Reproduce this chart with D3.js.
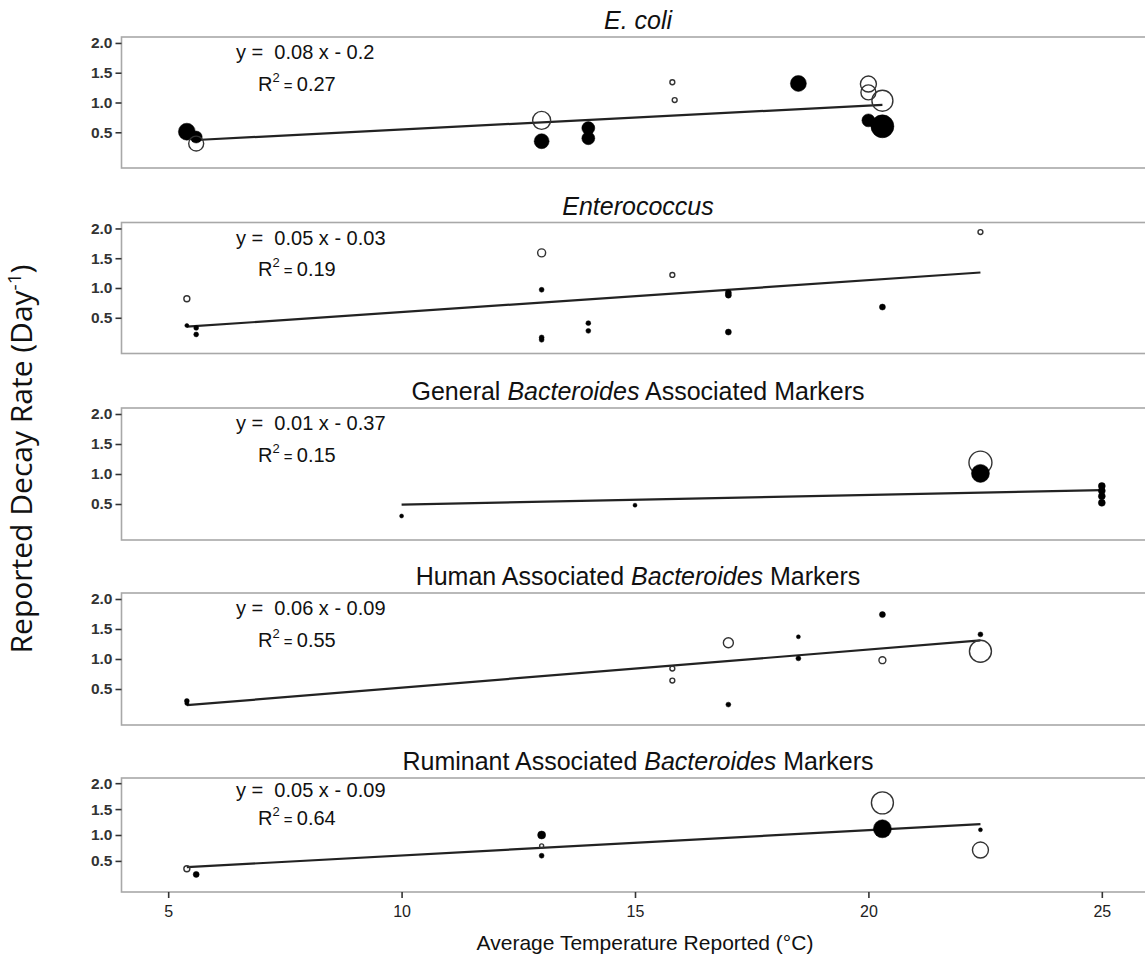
<!DOCTYPE html>
<html>
<head>
<meta charset="utf-8">
<script src="https://cdn.jsdelivr.net/npm/d3@7"></script>
<style>
  html, body { margin: 0; padding: 0; background: #fff; }
  svg { display: block; }
</style>
</head>
<body>
<svg id="chart" width="1145" height="960"></svg>
<script>
// ---------------- DATA ----------------
// Each point: [average temperature (°C), decay rate (day^-1), weight (marker size), filled (1) / open (0)]
const ecoliPoints = [
  [5.4, 0.51, 72, 1], [5.6, 0.42, 36, 1], [5.6, 0.31, 56, 0],
  [13.0, 0.70, 81, 0], [13.0, 0.35, 56, 1],
  [14.0, 0.57, 42, 1], [14.0, 0.40, 42, 1],
  [15.8, 1.34, 6, 0], [15.85, 1.04, 6, 0],
  [18.5, 1.32, 64, 1],
  [20.0, 1.31, 64, 0], [20.0, 1.17, 56, 0], [20.3, 1.03, 110, 0],
  [20.0, 0.70, 42, 1], [20.3, 0.60, 132, 1]
];
const enteroPoints = [
  [5.4, 0.82, 9, 0], [5.4, 0.37, 4, 1], [5.6, 0.33, 6, 1], [5.6, 0.22, 6, 1],
  [13.0, 1.59, 16, 0], [13.0, 0.97, 6, 1], [13.0, 0.17, 6, 1], [13.0, 0.13, 6, 1],
  [14.0, 0.41, 6, 1], [14.0, 0.28, 6, 1],
  [15.8, 1.22, 6, 0],
  [17.0, 0.92, 9, 1], [17.0, 0.88, 9, 1], [17.0, 0.26, 9, 1],
  [20.3, 0.68, 9, 1],
  [22.4, 1.94, 6, 0]
];
const generalPoints = [
  [10.0, 0.30, 4, 1], [15.0, 0.48, 4, 1],
  [22.4, 1.19, 132, 0], [22.4, 1.01, 81, 1],
  [25.0, 0.80, 12, 1], [25.0, 0.72, 12, 1], [25.0, 0.63, 12, 1], [25.0, 0.52, 12, 1]
];
const humanPoints = [
  [5.4, 0.30, 6, 1], [5.4, 0.26, 4, 1],
  [15.8, 0.84, 6, 0], [15.8, 0.64, 6, 0],
  [17.0, 1.27, 25, 0], [17.0, 0.24, 6, 1],
  [18.5, 1.37, 4, 1], [18.5, 1.01, 6, 1],
  [20.3, 1.74, 9, 1], [20.3, 0.98, 12, 0],
  [22.4, 1.41, 6, 1], [22.4, 1.13, 121, 0]
];
const ruminantPoints = [
  [5.4, 0.35, 9, 0], [5.6, 0.24, 9, 1],
  [13.0, 1.00, 16, 1], [13.0, 0.79, 4, 0], [13.0, 0.60, 6, 1],
  [20.3, 1.62, 121, 0], [20.3, 1.12, 81, 1],
  [22.4, 1.10, 4, 1], [22.4, 0.71, 64, 0]
];

// Regression line end points (temperature, rate) as drawn
const fitX = [[5.6, 20.3], [5.4, 22.4], [10.0, 25.0], [5.4, 22.4], [5.4, 22.4]];
const fitY = [[0.37, 0.96], [0.35, 1.26], [0.49, 0.73], [0.23, 1.31], [0.38, 1.21]];

// Panel titles as [text, italic] segments
const titles = [
  [["E. coli", true]],
  [["Enterococcus", true]],
  [["General ", false], ["Bacteroides", true], [" Associated Markers", false]],
  [["Human Associated ", false], ["Bacteroides", true], [" Markers", false]],
  [["Ruminant Associated ", false], ["Bacteroides", true], [" Markers", false]]
];
const equations = ["y =  0.08 x - 0.2", "y =  0.05 x - 0.03", "y =  0.01 x - 0.37", "y =  0.06 x - 0.09", "y =  0.05 x - 0.09"];
const rSquared = ["0.27", "0.19", "0.15", "0.55", "0.64"];

const yTicks = [0.5, 1.0, 1.5, 2.0];
const xTicks = [5, 10, 15, 20, 25];
const xLabel = "Average Temperature Reported (°C)";
const yLabel = "Reported Decay Rate (Day";

const panelData = [ecoliPoints, enteroPoints, generalPoints, humanPoints, ruminantPoints];

// ---------------- LAYOUT ----------------
const panelTop = [37, 222.5, 408, 593, 778];
const panelH = [131, 131, 132, 132, 114];
const left = 121.5, right = 1148.5;

const svg = d3.select("#chart");
const x = d3.scaleLinear().domain([4, 26]).range([left, right]);
const rScale = d3.scaleSqrt().domain([0, 144]).range([0, 12]);
const FONT = "'Liberation Sans', Arial, Helvetica, sans-serif";

panelData.forEach((pts, i) => {
  const top = panelTop[i], h = panelH[i];
  const y = d3.scaleLinear().domain([-0.1, 2.1]).range([top + h, top]);
  const g = svg.append("g");

  // title
  const t = g.append("text")
    .attr("x", (left + right) / 2 + 3)
    .attr("y", top - 8)
    .attr("text-anchor", "middle")
    .attr("font-family", FONT)
    .attr("font-size", 25)
    .attr("fill", "#111");
  titles[i].forEach(([s, it]) => {
    t.append("tspan").text(s).attr("font-style", it ? "italic" : "normal");
  });

  // panel box
  g.append("rect")
    .attr("x", left).attr("y", top)
    .attr("width", right - left).attr("height", h)
    .attr("fill", "none")
    .attr("stroke", "#a8a8a8")
    .attr("stroke-width", 1.6);

  // y axis
  const ya = g.append("g")
    .attr("transform", `translate(${left},0)`)
    .call(d3.axisLeft(y).tickValues(yTicks).tickFormat(d3.format(".1f")).tickSize(6).tickPadding(3));
  ya.select(".domain").remove();
  ya.selectAll(".tick line").attr("stroke", "#333").attr("stroke-width", 1.6);
  ya.selectAll(".tick text")
    .attr("font-family", FONT).attr("font-size", 15.5).attr("font-weight", "bold").attr("fill", "#333");

  // regression line
  const lineGen = d3.line().x(d => x(d[0])).y(d => y(d[1]));
  g.append("path")
    .datum([[fitX[i][0], fitY[i][0]], [fitX[i][1], fitY[i][1]]])
    .attr("d", lineGen)
    .attr("stroke", "#222")
    .attr("stroke-width", 2.2)
    .attr("fill", "none");

  // points
  g.selectAll("circle.pt")
    .data(pts)
    .join("circle")
    .attr("class", "pt")
    .attr("cx", d => x(d[0]))
    .attr("cy", d => y(d[1]))
    .attr("r", d => rScale(d[2]))
    .attr("fill", d => d[3] ? "#000" : "none")
    .attr("stroke", d => d[3] ? "#000" : "#333")
    .attr("stroke-width", d => d[3] ? 0.5 : 1.4);

  // equation text
  g.append("text")
    .attr("x", 236).attr("y", top + 0.17 * h)
    .attr("font-family", FONT).attr("font-size", 20).attr("fill", "#111")
    .attr("xml:space", "preserve")
    .style("white-space", "pre")
    .text(equations[i]);
  const r2 = g.append("text")
    .attr("x", 258).attr("y", top + 0.41 * h)
    .attr("font-family", FONT).attr("font-size", 20).attr("fill", "#111");
  r2.append("tspan").text("R");
  r2.append("tspan").text("2").attr("font-size", 13).attr("dy", -9);
  r2.append("tspan").text(" = ").attr("font-size", 15).attr("dy", 9);
  r2.append("tspan").text(rSquared[i]);

  // x axis on bottom panel only
  if (i === panelData.length - 1) {
    const xa = g.append("g")
      .attr("transform", `translate(0,${top + h})`)
      .call(d3.axisBottom(x).tickValues(xTicks).tickFormat(d3.format("d")).tickSize(6).tickPadding(8));
    xa.select(".domain").remove();
    xa.selectAll(".tick line").attr("stroke", "#333").attr("stroke-width", 1.6);
    xa.selectAll(".tick text")
      .attr("font-family", FONT).attr("font-size", 16).attr("fill", "#222");
  }
});

// x-axis title
svg.append("text")
  .attr("x", 645).attr("y", 950)
  .attr("text-anchor", "middle")
  .attr("font-family", FONT).attr("font-size", 21).attr("fill", "#111")
  .text(xLabel);

// y-axis title
const yt = svg.append("text")
  .attr("transform", "translate(32,459) rotate(-90)")
  .attr("text-anchor", "middle")
  .attr("font-family", "'Open Sans', Lato, sans-serif")
  .attr("font-size", 30).attr("fill", "#111");
yt.append("tspan").text(yLabel);
yt.append("tspan").text("-1").attr("font-size", 19).attr("dy", -11);
yt.append("tspan").text(")").attr("dy", 11);
</script>
</body>
</html>
